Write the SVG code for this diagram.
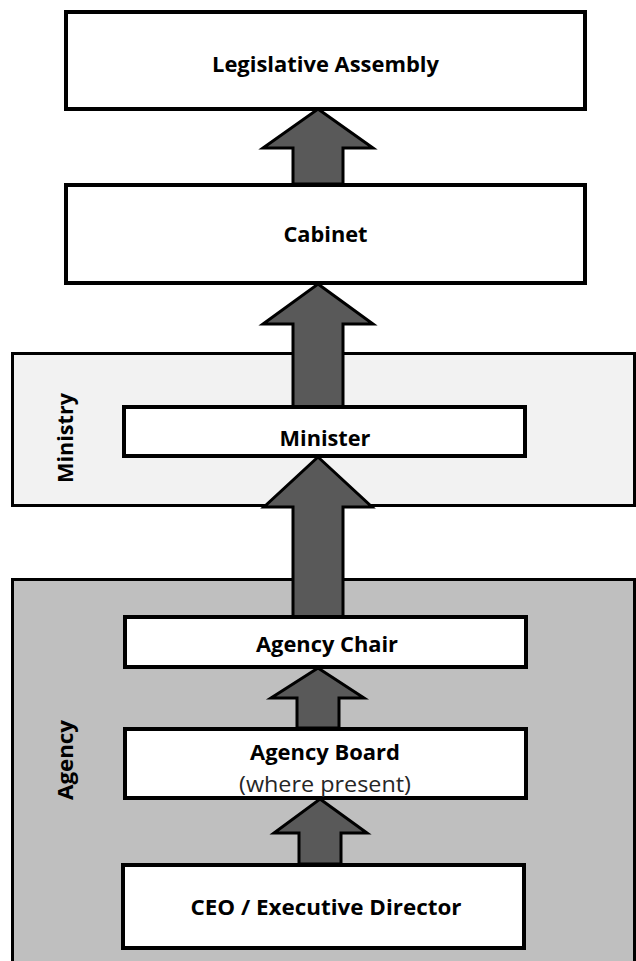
<svg xmlns="http://www.w3.org/2000/svg" width="636" height="961" viewBox="0 0 636 961">
<style>
.node rect{fill:#ffffff;stroke:#000000;stroke-width:4}
.cont{stroke:#000000;stroke-width:3}
.lbl{font-family:"Open Sans",Lato,"Liberation Sans",sans-serif;font-weight:bold;font-size:22px;fill:#000000;text-anchor:middle}
.sub{font-family:"Open Sans",Lato,"Liberation Sans",sans-serif;font-weight:normal;font-size:22px;fill:#262626;text-anchor:middle}
.arrow{fill:#595959;stroke:#000000;stroke-width:3;stroke-linejoin:miter}
</style>
<rect width="636" height="961" fill="#ffffff"/>
<g id="ministry">
<rect class="cont" x="12.5" y="353.5" width="622" height="152" fill="#f2f2f2"/>
<text class="lbl" transform="translate(73,438) rotate(-90)" textLength="90" lengthAdjust="spacingAndGlyphs">Ministry</text>
</g>
<g id="agency">
<rect class="cont" x="12.5" y="579.5" width="622" height="390" fill="#bfbfbf"/>
<text class="lbl" transform="translate(73,760) rotate(-90)" textLength="80" lengthAdjust="spacingAndGlyphs">Agency</text>
</g>
<g id="connectors">
<polygon class="arrow" points="318,109 373,148 343,148 343,184 293,184 293,148 263,148"/>
<polygon class="arrow" points="318,284 373,324 343,324 343,407 293,407 293,324 263,324"/>
<polygon class="arrow" points="318,457 372,507 343,507 343,617 293,617 293,507 264,507"/>
<polygon class="arrow" points="318,668 364,698 339,698 339,728 297,728 297,698 271,698"/>
<polygon class="arrow" points="320,799 367,833 341,833 341,864 299,864 299,833 274,833"/>
</g>
<g id="legislative-assembly" class="node">
<rect x="66" y="12" width="519" height="97"/>
<text class="lbl" x="325.5" y="72" textLength="227" lengthAdjust="spacingAndGlyphs">Legislative Assembly</text>
</g>
<g id="cabinet" class="node">
<rect x="66" y="185" width="519" height="98"/>
<text class="lbl" x="325.5" y="242" textLength="84" lengthAdjust="spacingAndGlyphs">Cabinet</text>
</g>
<g id="minister" class="node">
<rect x="124" y="407" width="401" height="49"/>
<text class="lbl" x="325" y="446" textLength="91" lengthAdjust="spacingAndGlyphs">Minister</text>
</g>
<g id="agency-chair" class="node">
<rect x="125" y="617" width="401" height="50"/>
<text class="lbl" x="327" y="652" textLength="142" lengthAdjust="spacingAndGlyphs">Agency Chair</text>
</g>
<g id="agency-board" class="node">
<rect x="125" y="729" width="401" height="69"/>
<text class="lbl" x="325" y="760" textLength="150" lengthAdjust="spacingAndGlyphs">Agency Board</text>
<text class="sub" x="325" y="792" textLength="172" lengthAdjust="spacingAndGlyphs">(where present)</text>
</g>
<g id="ceo" class="node">
<rect x="123" y="865" width="401" height="83"/>
<text class="lbl" x="326" y="915" textLength="271" lengthAdjust="spacingAndGlyphs">CEO / Executive Director</text>
</g>
</svg>
